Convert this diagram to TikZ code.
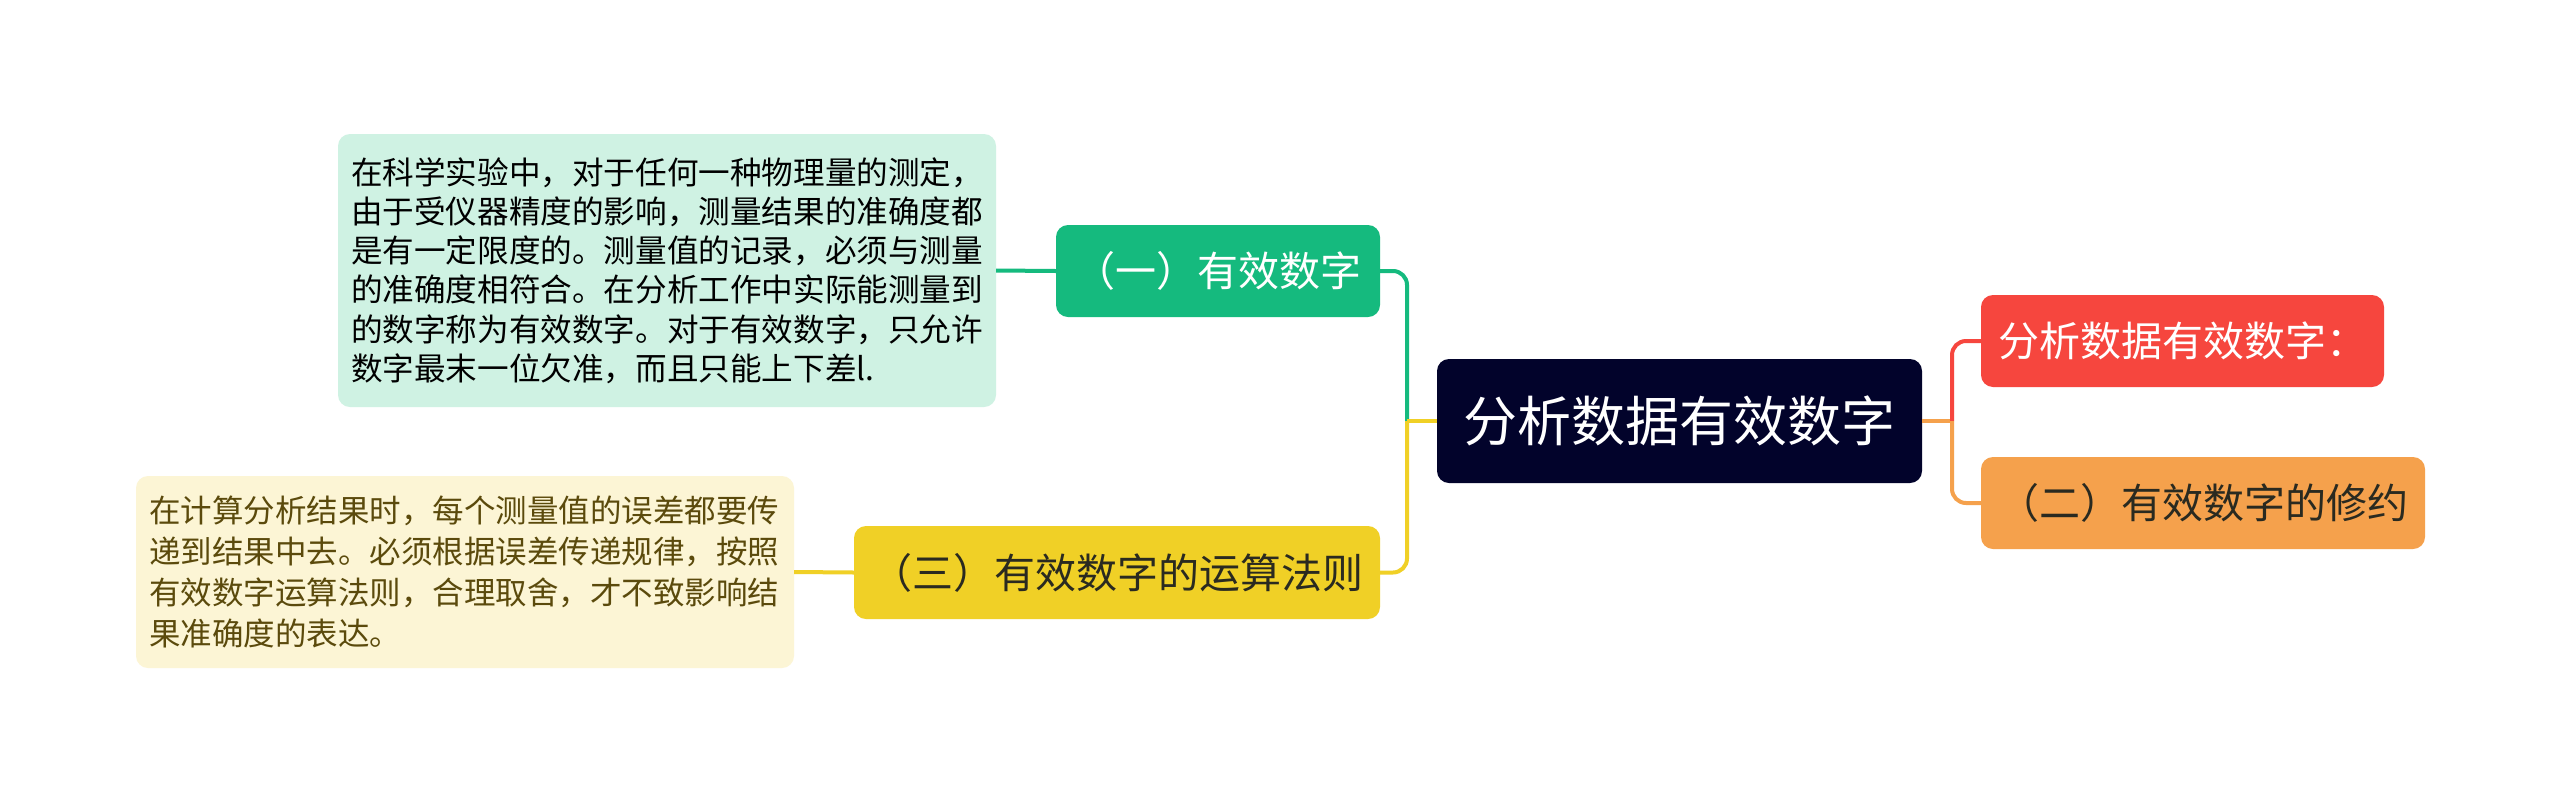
\documentclass[tikz,border=0pt]{standalone}
\usepackage{fontspec}
\setmainfont{Noto Sans CJK SC}
\definecolor{cgreen}{HTML}{15BA7E}
\definecolor{cgreendet}{HTML}{CFF2E3}
\definecolor{cyellow}{HTML}{F0D026}
\definecolor{cyellowdet}{HTML}{FCF5D5}
\definecolor{cyellowtxt}{HTML}{5B4A0C}
\definecolor{cnavy}{HTML}{02032B}
\definecolor{cred}{HTML}{F6463E}
\definecolor{corange}{HTML}{F5A14C}
\definecolor{cdark}{HTML}{2A2A20}
\tikzset{
  topic/.style={rounded corners=12pt, inner sep=0pt, align=center, font={\fontsize{41}{49}\selectfont}},
  detail/.style={rounded corners=12pt, inner xsep=13pt, inner ysep=0pt, text width=632pt, align=left},
  conn/.style={line width=4pt, rounded corners=14pt}
}
\begin{document}
\begin{tikzpicture}[x=1pt,y=-1pt]
\useasboundingbox[fill=white] (0,0) rectangle (2560,804);
% central
\node[topic, fill=cnavy, text=white, minimum width=485pt, minimum height=124pt, font={\fontsize{54}{60}\selectfont}] (c) at (1679.5,421) {分析数据有效数字};
% level 1
\node[topic, fill=cgreen, text=white, minimum width=324pt, minimum height=92pt] (g1) at (1218,271) {（一）有效数字};
\node[topic, fill=cyellow, text=cdark, minimum width=526pt, minimum height=93pt] (y1) at (1117,572.5) {（三）有效数字的运算法则};
\node[topic, fill=cred, text=white, minimum width=403pt, minimum height=92pt] (r1) at (2182.5,341) {分析数据有效数字：};
\node[topic, fill=corange, text=cdark, minimum width=444pt, minimum height=92pt] (o1) at (2203,503) {（二）有效数字的修约};
% details
\node[detail, fill=cgreendet, text=black, minimum height=273pt, font={\fontsize{31.6}{39.2}\selectfont}] (gd) at (667,270.5) {在科学实验中，对于任何一种物理量的测定，\\由于受仪器精度的影响，测量结果的准确度都\\是有一定限度的。测量值的记录，必须与测量\\的准确度相符合。在分析工作中实际能测量到\\的数字称为有效数字。对于有效数字，只允许\\数字最末一位欠准，而且只能上下差l.};
\node[detail, fill=cyellowdet, text=cyellowtxt, minimum height=192pt, font={\fontsize{31.5}{41}\selectfont}] (yd) at (465,572) {在计算分析结果时，每个测量值的误差都要传\\递到结果中去。必须根据误差传递规律，按照\\有效数字运算法则，合理取舍，才不致影响结\\果准确度的表达。};
% junctions
\coordinate (jl) at (1407,421);
\coordinate (jr) at (1952,421);
% connectors
\draw[conn, cgreen] (gd.east) -- (g1.west);
\draw[conn, cgreen] (g1.east) -| (jl);
\draw[conn, cyellow] (jl) -- (c.west);
\draw[conn, cyellow] (jl) |- (y1.east);
\draw[conn, cyellow] (yd.east) -- (y1.west);
\draw[conn, corange] (c.east) -- (jr);
\draw[conn, cred] (jr) |- (r1.west);
\draw[conn, corange] (jr) |- (o1.west);
\end{tikzpicture}
\end{document}
